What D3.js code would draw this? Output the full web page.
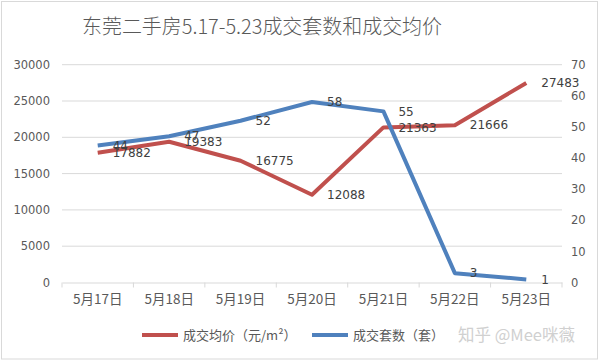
<!DOCTYPE html>
<html><head><meta charset="utf-8">
<script src="https://cdn.jsdelivr.net/npm/d3@7"></script>
<style>body{margin:0;background:#fff}svg{display:block}</style>
</head><body>
<svg id="c" width="600" height="361"></svg>
<script>
const categories = ["5月17日","5月18日","5月19日","5月20日","5月21日","5月22日","5月23日"];
const priceValues = [17882, 19383, 16775, 12088, 21363, 21666, 27483];
const countValues = [44, 47, 52, 58, 55, 3, 1];
const leftTicks = [0, 5000, 10000, 15000, 20000, 25000, 30000];
const rightTicks = [0, 10, 20, 30, 40, 50, 60, 70];
const seriesNames = ["成交均价（元/m²）", "成交套数（套）"];
const titleText = "东莞二手房5.17-5.23成交套数和成交均价";
const watermark = "知乎 @Mee咪薇";

const svg = d3.select("#c");
const m = {l: 62, r: 562, t: 64.7, b: 282.5};
const red = "#C0504D", blue = "#4F81BD";
const numFont = "'DejaVu Sans', sans-serif";
const cjkFont = "'Noto Sans CJK SC', sans-serif";

svg.append("rect").attr("x",1.5).attr("y",1.5).attr("width",596).attr("height",357.5)
  .attr("fill","#fff").attr("stroke","#d9d9d9");

svg.append("text").attr("x",82).attr("y",34).attr("font-family",cjkFont)
  .attr("font-size",20).attr("font-weight",300).attr("fill","#595959")
  .attr("textLength",360).attr("lengthAdjust","spacingAndGlyphs").text(titleText);

const x = d3.scaleBand().domain(categories).range([m.l, m.r]);
const yL = d3.scaleLinear().domain([0,30000]).range([m.b, m.t]);
const yR = d3.scaleLinear().domain([0,70]).range([m.b, m.t]);

// gridlines
svg.append("g").selectAll("line").data(leftTicks.filter(d=>d>0)).join("line")
  .attr("x1",m.l).attr("x2",m.r).attr("y1",d=>yL(d)).attr("y2",d=>yL(d))
  .attr("stroke","#d9d9d9").attr("stroke-width",1);

// left axis
const gL = svg.append("g").attr("transform",`translate(${m.l},0)`)
  .call(d3.axisLeft(yL).tickValues(leftTicks).tickSize(0).tickPadding(12).tickFormat(d3.format("d")));
gL.select(".domain").remove();
gL.selectAll("text").attr("font-family",numFont).attr("font-size",11.5).attr("fill","#595959");

// right axis
const gR = svg.append("g").attr("transform",`translate(${m.r},0)`)
  .call(d3.axisRight(yR).tickValues(rightTicks).tickSize(0).tickPadding(9));
gR.select(".domain").remove();
gR.selectAll("text").attr("font-family",numFont).attr("font-size",11.5).attr("fill","#595959");

// bottom axis
const gB = svg.append("g").attr("transform",`translate(0,${m.b})`)
  .call(d3.axisBottom(x).tickSize(0).tickPadding(12));
gB.select(".domain").attr("stroke","#d9d9d9");
gB.selectAll("text").attr("font-family",cjkFont).attr("font-size",13.5).attr("fill","#595959");
const bounds = categories.map(c=>x(c)).concat([m.r]);
svg.append("g").selectAll("line").data(bounds).join("line")
  .attr("x1",d=>d).attr("x2",d=>d).attr("y1",m.b).attr("y2",m.b+5)
  .attr("stroke","#d9d9d9");

const cx = c => x(c) + x.bandwidth()/2;

const linePrice = d3.line().x((d,i)=>cx(categories[i])).y(d=>yL(d));
const lineCount = d3.line().x((d,i)=>cx(categories[i])).y(d=>yR(d));

svg.append("path").datum(priceValues).attr("d",linePrice).attr("fill","none")
  .attr("stroke",red).attr("stroke-width",4).attr("stroke-linejoin","round");
svg.append("path").datum(countValues).attr("d",lineCount).attr("fill","none")
  .attr("stroke",blue).attr("stroke-width",4).attr("stroke-linejoin","round");

// data labels
svg.append("g").selectAll("text").data(priceValues).join("text")
  .attr("x",(d,i)=>cx(categories[i])+15).attr("y",d=>yL(d)).attr("dy","0.35em")
  .attr("font-family",numFont).attr("font-size",12).attr("fill","#404040").text(d=>d);
svg.append("g").selectAll("text").data(countValues).join("text")
  .attr("x",(d,i)=>cx(categories[i])+15).attr("y",d=>yR(d)).attr("dy","0.35em")
  .attr("font-family",numFont).attr("font-size",12).attr("fill","#404040").text(d=>d);

// legend
const legY = 335;
const leg = [{name:seriesNames[0],color:red,x:142},{name:seriesNames[1],color:blue,x:312}];
leg.forEach(l=>{
  svg.append("line").attr("x1",l.x).attr("x2",l.x+36).attr("y1",legY).attr("y2",legY)
    .attr("stroke",l.color).attr("stroke-width",4);
  svg.append("text").attr("x",l.x+41).attr("y",legY).attr("dy","0.35em")
    .attr("font-family",cjkFont).attr("font-size",13).attr("fill","#595959").text(l.name);
});
svg.append("text").attr("x",458).attr("y",legY).attr("dy","0.35em")
  .attr("font-family",cjkFont).attr("font-size",16.5).attr("fill","#d0d0d0").text(watermark);
</script>
</body></html>
